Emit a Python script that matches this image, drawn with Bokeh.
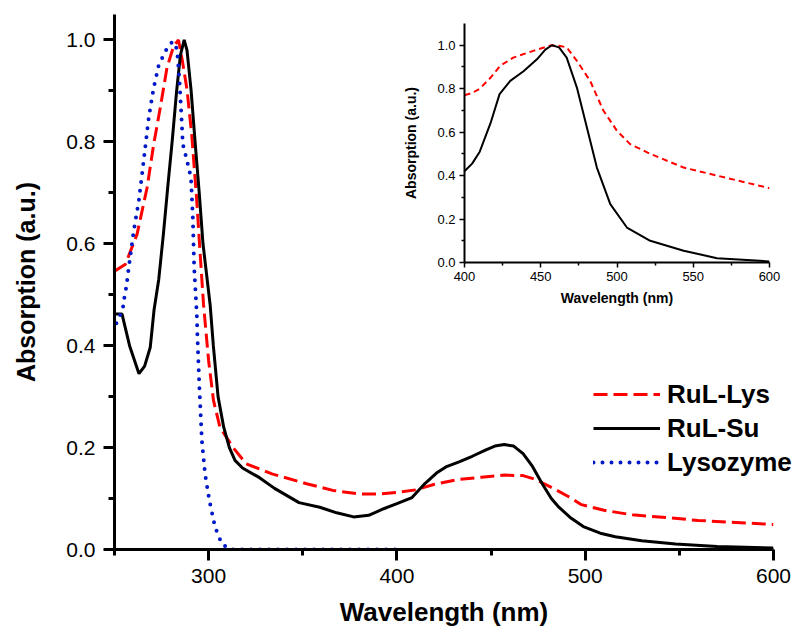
from bokeh.plotting import figure
from bokeh.models import FixedTicker, PrintfTickFormatter, Legend, LegendItem, Range1d
from bokeh.layouts import column
from bokeh.embed import file_html
from bokeh.resources import INLINE

# ---------------- data ----------------
# Main panel: RuL-Lys (red dashed)
lys_wl = [250, 255.8, 262, 267.3, 270.8, 274.3, 277.9, 281.4, 284, 286, 288.5, 291,
          293.7, 295.5, 297.3, 300, 302.6, 306, 313, 320, 334, 352, 366, 380, 390,
          400, 410, 420, 432, 445, 457, 467, 474, 482, 491, 498, 510, 525, 545, 560,
          580, 600]
lys_abs = [0.546, 0.56, 0.619, 0.71, 0.795, 0.867, 0.946, 0.988, 1.0, 0.96, 0.903, 0.815,
           0.684, 0.58, 0.48, 0.37, 0.292, 0.24, 0.20, 0.168, 0.148, 0.129, 0.116, 0.109, 0.109,
           0.112, 0.117, 0.128, 0.137, 0.142, 0.146, 0.145, 0.137, 0.122, 0.104, 0.088, 0.077,
           0.068, 0.062, 0.057, 0.053, 0.049]

# Main panel: RuL-Su (black solid)
su_wl = [250, 254, 258, 263, 266, 269, 271, 273.5, 276, 278.5, 280.6, 283, 285, 287,
         288.5, 290.7, 292.8, 295, 297, 300.8, 302.5, 305, 308, 311, 314, 318, 327, 335,
         348, 359, 368, 377, 385, 393, 400, 408, 415, 421, 426, 433, 440, 447, 452, 457,
         462, 467, 472, 477, 482, 486, 492, 499, 508, 516, 530, 548, 570, 600]
su_abs = [0.462, 0.462, 0.40, 0.345, 0.36, 0.397, 0.47, 0.53, 0.62, 0.72, 0.80, 0.90, 0.97, 1.0,
          0.98, 0.90, 0.80, 0.70, 0.60, 0.48, 0.40, 0.30, 0.24, 0.20, 0.175, 0.16, 0.141, 0.12,
          0.092, 0.083, 0.072, 0.064, 0.067, 0.08, 0.09, 0.102, 0.13, 0.15, 0.162, 0.172, 0.183,
          0.195, 0.203, 0.206, 0.203, 0.188, 0.163, 0.13, 0.10, 0.083, 0.063, 0.045, 0.032,
          0.025, 0.017, 0.011, 0.006, 0.003]

# Main panel: Lysozyme (blue dotted)
lz_wl = [251, 253, 254.6, 255.3, 256.3, 257.6, 260.2, 262.9, 265.5, 268.2, 270.8, 273.4,
         277, 280.8, 283.2, 284.4, 285.3, 286.3, 288.5, 290.6, 291.6, 292.3, 293.7, 294,
         295, 296.4, 298.1, 300.4, 303.4, 307, 311.4, 400]
lz_abs = [0.444, 0.46, 0.477, 0.496, 0.516, 0.554, 0.625, 0.684, 0.763, 0.848, 0.906, 0.949,
          0.978, 0.997, 0.982, 0.926, 0.867, 0.795, 0.763, 0.73, 0.652, 0.554, 0.462, 0.423,
          0.325, 0.214, 0.148, 0.096, 0.044, 0.011, 0.0, 0.0]

# Inset: normalised visible band
in_su_wl = [400, 405, 410, 417, 423, 430, 438.7, 447.5, 453, 457.3, 462, 467, 473.7, 480.3,
            486.8, 495.6, 506.5, 521.8, 543.7, 565.6, 600]
in_su_abs = [0.42, 0.455, 0.51, 0.64, 0.775, 0.836, 0.88, 0.935, 0.98, 1.0, 0.99, 0.943, 0.805,
             0.62, 0.437, 0.269, 0.161, 0.10, 0.054, 0.02, 0.005]
in_lys_wl = [400, 405, 410, 417, 423.4, 432, 445, 457, 462, 467, 473.7, 482.4, 491, 500,
             508.6, 521.8, 543.7, 565.6, 600]
in_lys_abs = [0.77, 0.78, 0.80, 0.85, 0.905, 0.943, 0.974, 1.0, 0.998, 0.99, 0.928, 0.836, 0.70,
              0.606, 0.545, 0.50, 0.437, 0.40, 0.342]

series_labels = ["RuL-Lys", "RuL-Su", "Lysozyme"]

main_xticks = [300, 400, 500, 600]
main_xminor = [250, 350, 450, 550]
main_yticks = [0.0, 0.2, 0.4, 0.6, 0.8, 1.0]
main_yminor = [0.1, 0.3, 0.5, 0.7, 0.9]
in_xticks = [400, 450, 500, 550, 600]
in_xminor = [425, 475, 525, 575]
in_yticks = [0.0, 0.2, 0.4, 0.6, 0.8, 1.0]
in_yminor = [0.1, 0.3, 0.5, 0.7, 0.9]

FONT = "Liberation Sans"
RED = "#ff0000"
BLUE = "#0018c8"

LYS_STYLE = dict(line_color=RED, line_width=3, line_dash="14 6")
SU_STYLE = dict(line_color="black", line_width=3)
LZ_STYLE = dict(line_color=BLUE, line_width=4, line_dash="0 9", line_cap="round")


def style_axes(p, tick_size, title_size_x, title_size_y, major_out, minor_out, lw, tlw,
               lab_stand, title_stand_x, title_stand_y):
    for ax in (p.xaxis[0], p.yaxis[0]):
        ax.axis_line_width = lw
        ax.axis_line_color = "black"
        ax.major_tick_line_width = tlw
        ax.minor_tick_line_width = tlw
        ax.major_tick_in = 0
        ax.major_tick_out = major_out
        ax.minor_tick_in = 0
        ax.minor_tick_out = minor_out
        ax.major_label_text_font = FONT
        ax.major_label_text_font_size = tick_size
        ax.major_label_text_color = "black"
        ax.major_label_standoff = lab_stand
        ax.axis_label_text_font = FONT
        ax.axis_label_text_font_style = "bold"
        ax.axis_label_text_color = "black"
    p.xaxis[0].axis_label_text_font_size = title_size_x
    p.yaxis[0].axis_label_text_font_size = title_size_y
    p.xaxis[0].axis_label_standoff = title_stand_x
    p.yaxis[0].axis_label_standoff = title_stand_y
    p.xgrid.visible = False
    p.ygrid.visible = False
    p.outline_line_color = None


# ---------------- main figure ----------------
MAIN_H = 632
main = figure(width=793, height=MAIN_H, x_range=Range1d(250, 600), y_range=Range1d(0, 1.05),
              output_backend="svg", toolbar_location=None,
              min_border_left=114, min_border_right=20, min_border_top=14, min_border_bottom=83,
              x_axis_label="Wavelength (nm)", y_axis_label="Absorption (a.u.)")
style_axes(main, "21px", "26px", "25px", 11, 6, 3, 3, 8, 11, 23)
main.xaxis[0].ticker = FixedTicker(ticks=main_xticks, minor_ticks=main_xminor)
main.yaxis[0].ticker = FixedTicker(ticks=main_yticks, minor_ticks=main_yminor)
main.xaxis[0].formatter = PrintfTickFormatter(format="%d")
main.yaxis[0].formatter = PrintfTickFormatter(format="%.1f")

main.line(lys_wl, lys_abs, **LYS_STYLE)
main.line(su_wl, su_abs, **SU_STYLE)
main.line(lz_wl, lz_abs, **LZ_STYLE)

# ---------------- inset figure ----------------
INSET_TOP = 10
INSET_H = 302
inset = figure(width=381, height=INSET_H, x_range=Range1d(400, 600), y_range=Range1d(0, 1.1),
               output_backend="svg", toolbar_location=None,
               min_border_left=64, min_border_right=12, min_border_top=13, min_border_bottom=50,
               x_axis_label="Wavelength (nm)", y_axis_label="Absorption (a.u.)")
inset.frame_align = False
style_axes(inset, "13px", "14px", "14px", 5, 3, 2, 1.5, 4, 6, 15)
inset.xaxis[0].ticker = FixedTicker(ticks=in_xticks, minor_ticks=in_xminor)
inset.yaxis[0].ticker = FixedTicker(ticks=in_yticks, minor_ticks=in_yminor)
inset.xaxis[0].formatter = PrintfTickFormatter(format="%d")
inset.yaxis[0].formatter = PrintfTickFormatter(format="%.1f")
inset.background_fill_alpha = 0
inset.border_fill_alpha = 0
inset.line(in_lys_wl, in_lys_abs, line_color=RED, line_width=2, line_dash="6 4")
inset.line(in_su_wl, in_su_abs, line_color="black", line_width=2)
inset.margin = (INSET_TOP - MAIN_H, 0, 0, 400)

# ---------------- legend overlay (so the labels may run past the frame) ----------------
# The same series are attached here, but its ranges lie far outside the data,
# so only the legend itself shows.
LEG_TOP = 377
LEG_H = 102
leg = figure(width=218, height=LEG_H, x_range=Range1d(-20, -10), y_range=Range1d(-20, -10),
             output_backend="svg", toolbar_location=None,
             x_axis_type=None, y_axis_type=None,
             min_border_left=0, min_border_right=0, min_border_top=0, min_border_bottom=0)
leg.frame_align = False
leg.xgrid.visible = False
leg.ygrid.visible = False
leg.outline_line_color = None
leg.background_fill_alpha = 0
leg.border_fill_alpha = 0
p1 = leg.line(lys_wl, lys_abs, **LYS_STYLE)
p2 = leg.line(su_wl, su_abs, **SU_STYLE)
p3 = leg.line(lz_wl, lz_abs, **LZ_STYLE)
legend = Legend(items=[LegendItem(label=series_labels[0], renderers=[p1]),
                       LegendItem(label=series_labels[1], renderers=[p2]),
                       LegendItem(label=series_labels[2], renderers=[p3])],
                location=(13, 0))
legend.label_text_font = FONT
legend.label_text_font_style = "bold"
legend.label_text_font_size = "26px"
legend.label_text_color = "black"
legend.glyph_width = 67
legend.glyph_height = 34
legend.label_height = 34
legend.label_standoff = 7
legend.spacing = 0
legend.padding = 0
legend.margin = 0
legend.border_line_color = None
legend.background_fill_alpha = 0
leg.add_layout(legend)
inset_bottom = INSET_TOP + INSET_H
leg.margin = (LEG_TOP - inset_bottom, 0, MAIN_H - (LEG_TOP + LEG_H), 580)

layout = column(main, inset, leg)
layout.spacing = 0

open("out.html", "w").write(file_html(layout, INLINE))
